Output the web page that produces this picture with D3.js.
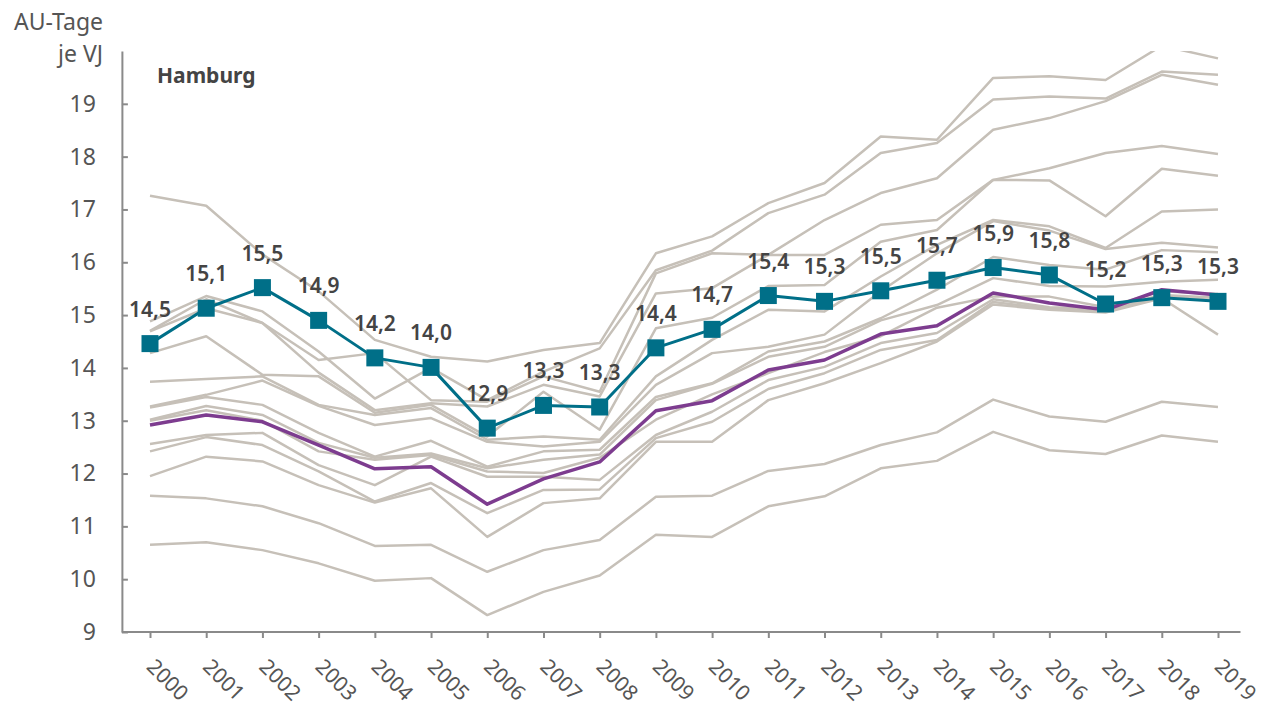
<!DOCTYPE html>
<html>
<head>
<meta charset="utf-8">
<script src="https://cdn.jsdelivr.net/npm/d3@7"></script>
<style>
  body { margin: 0; background: #fff; }
  svg { display: block; font-family: "Noto Sans", "Open Sans", sans-serif; }
</style>
</head>
<body>
<svg id="chart" width="1270" height="707"></svg>
<script>
// Jahre
var years = [2000, 2001, 2002, 2003, 2004, 2005, 2006, 2007, 2008, 2009,
             2010, 2011, 2012, 2013, 2014, 2015, 2016, 2017, 2018, 2019];

// Hamburg (AU-Tage je VJ)
var hamburg = [14.46, 15.13, 15.52, 14.90, 14.19, 14.01, 12.86, 13.29, 13.26, 14.38,
               14.73, 15.37, 15.26, 15.46, 15.66, 15.90, 15.76, 15.21, 15.33, 15.26];

// Bund gesamt
var bund = [12.92, 13.11, 12.98, 12.54, 12.09, 12.13, 11.42, 11.90, 12.22, 13.19,
            13.38, 13.96, 14.15, 14.64, 14.80, 15.42, 15.23, 15.10, 15.48, 15.38];

// uebrige Laender
var laender = [
  [17.26, 17.07, 16.15, 15.45, 14.53, 14.21, 14.12, 14.34, 14.47, 16.17, 16.49, 17.12, 17.50, 18.38, 18.32, 19.49, 19.52, 19.45, 20.10, 19.86],
  [14.88, 15.36, 15.07, 14.31, 13.42, 14.00, 13.39, 13.93, 14.37, 15.85, 16.22, 16.93, 17.28, 18.07, 18.26, 19.08, 19.14, 19.10, 19.61, 19.55],
  [14.70, 15.30, 14.85, 14.15, 14.28, 13.39, 13.36, 13.84, 13.55, 15.79, 16.17, 16.14, 16.80, 17.31, 17.59, 18.51, 18.73, 19.05, 19.55, 19.36],
  [14.69, 15.13, 14.85, 13.91, 13.20, 13.33, 13.27, 13.68, 13.46, 15.41, 15.51, 16.14, 16.14, 16.71, 16.80, 17.56, 17.78, 18.07, 18.20, 18.05],
  [14.28, 14.60, 13.87, 13.84, 13.15, 13.30, 12.70, 13.55, 12.83, 14.75, 14.95, 15.55, 15.57, 16.39, 16.61, 17.56, 17.55, 16.87, 17.77, 17.64],
  [13.74, 13.79, 13.84, 13.30, 13.11, 13.24, 12.64, 12.70, 12.64, 13.84, 14.53, 15.10, 15.07, 15.73, 16.33, 16.80, 16.68, 16.27, 16.96, 17.00],
  [13.27, 13.49, 13.76, 13.28, 12.92, 13.05, 12.60, 12.51, 12.60, 13.68, 14.28, 14.40, 14.63, 15.45, 16.17, 16.78, 16.60, 16.25, 16.37, 16.28],
  [13.25, 13.45, 13.30, 12.77, 12.32, 12.62, 12.13, 12.42, 12.45, 13.45, 13.71, 14.31, 14.50, 14.94, 15.48, 16.10, 15.95, 15.86, 16.23, 16.19],
  [13.02, 13.28, 13.11, 12.58, 12.30, 12.38, 12.10, 12.26, 12.36, 13.39, 13.70, 14.21, 14.40, 14.90, 15.19, 15.70, 15.55, 15.54, 15.63, 15.67],
  [13.00, 13.20, 13.00, 12.42, 12.26, 12.35, 12.04, 12.01, 12.30, 13.02, 13.50, 13.90, 14.30, 14.60, 15.14, 15.35, 15.35, 15.15, 15.45, 15.40],
  [12.56, 12.73, 12.77, 12.16, 11.78, 12.32, 11.94, 11.94, 11.88, 12.73, 13.17, 13.77, 14.02, 14.47, 14.66, 15.30, 15.15, 15.12, 15.38, 15.33],
  [12.42, 12.69, 12.54, 12.04, 11.47, 11.82, 11.25, 11.69, 11.70, 12.67, 12.98, 13.60, 13.90, 14.34, 14.53, 15.25, 15.12, 15.08, 15.35, 15.28],
  [11.95, 12.32, 12.23, 11.78, 11.45, 11.72, 10.80, 11.44, 11.53, 12.60, 12.60, 13.39, 13.71, 14.09, 14.50, 15.20, 15.10, 15.05, 15.32, 14.63],
  [11.58, 11.53, 11.38, 11.06, 10.63, 10.65, 10.14, 10.55, 10.74, 11.56, 11.58, 12.05, 12.18, 12.54, 12.78, 13.40, 13.08, 12.98, 13.36, 13.26],
  [10.65, 10.70, 10.55, 10.30, 9.97, 10.02, 9.32, 9.76, 10.07, 10.84, 10.80, 11.38, 11.57, 12.10, 12.24, 12.79, 12.44, 12.37, 12.72, 12.60]
];

var yTicks = [9, 10, 11, 12, 13, 14, 15, 16, 17, 18, 19];
var yTitle = ["AU-Tage", "je VJ"];
var regionName = "Hamburg";

var svg = d3.select("#chart");

var x = d3.scaleLinear().domain([2000, 2019]).range([150, 1218]);
var y = d3.scaleLinear().domain([9, 20]).range([632, 51]);

var fmt = function (v) { return v.toFixed(1).replace(".", ","); };

svg.append("clipPath").attr("id", "plot")
  .append("rect")
  .attr("x", x(1999.5)).attr("y", y(20))
  .attr("width", x(2019.4) - x(1999.5)).attr("height", y(9) - y(20));

var line = d3.line()
  .x(function (d, i) { return x(years[i]); })
  .y(function (d) { return y(d); });

// y axis
var yAxis = svg.append("g")
  .attr("transform", "translate(" + x(1999.5) + ",0)")
  .call(d3.axisLeft(y).tickValues(yTicks).tickSizeInner(-6).tickSizeOuter(0).tickPadding(26));
yAxis.select(".domain").attr("stroke", "#8a8a8a").attr("stroke-width", 2);
yAxis.selectAll(".tick line").attr("stroke", "#8a8a8a").attr("stroke-width", 2);
yAxis.selectAll(".tick text")
  .attr("fill", "#555").style("font-size", "23px").style("font-family", "Noto Sans");

// x axis
var xAxis = svg.append("g")
  .attr("transform", "translate(0," + y(9) + ")")
  .call(d3.axisBottom(x).tickValues(years).tickFormat(d3.format("d")).tickSizeInner(6).tickSizeOuter(0));
xAxis.select(".domain").remove();
xAxis.append("line")
  .attr("x1", x(1999.5)).attr("x2", x(2019.4))
  .attr("stroke", "#8a8a8a").attr("stroke-width", 2);
xAxis.selectAll(".tick line").attr("stroke", "#8a8a8a").attr("stroke-width", 2);
xAxis.selectAll(".tick text")
  .attr("x", 0).attr("y", 0).attr("dy", 0)
  .attr("text-anchor", "start")
  .attr("transform", "translate(-5,36) rotate(45)")
  .attr("fill", "#555").style("font-size", "21px").style("font-family", "Noto Sans");

// axis title
svg.append("text")
  .attr("x", 103).attr("y", 30)
  .attr("text-anchor", "end")
  .attr("fill", "#555").style("font-size", "23px")
  .selectAll("tspan").data(yTitle).enter().append("tspan")
  .attr("x", 103).attr("dy", function (d, i) { return i ? 32 : 0; })
  .text(function (d) { return d; });

svg.append("text")
  .attr("x", 157).attr("y", 83)
  .attr("fill", "#444").style("font-size", "21px").style("font-weight", "bold")
  .text(regionName);

var plot = svg.append("g").attr("clip-path", "url(#plot)");

plot.selectAll(".land").data(laender).enter().append("path")
  .attr("class", "land")
  .attr("d", line)
  .attr("fill", "none")
  .attr("stroke", "#c6c0b8")
  .attr("stroke-width", 2.5)
  .attr("stroke-linejoin", "round");

plot.append("path")
  .attr("d", line(bund))
  .attr("fill", "none")
  .attr("stroke", "#7d3c8f")
  .attr("stroke-width", 3.5)
  .attr("stroke-linejoin", "round");

plot.append("path")
  .attr("d", line(hamburg))
  .attr("fill", "none")
  .attr("stroke", "#006f88")
  .attr("stroke-width", 3)
  .attr("stroke-linejoin", "round");

svg.selectAll(".marker").data(hamburg).enter().append("rect")
  .attr("class", "marker")
  .attr("x", function (d, i) { return x(years[i]) - 8.5; })
  .attr("y", function (d) { return y(d) - 8.5; })
  .attr("width", 17).attr("height", 17)
  .attr("fill", "#006f88");

svg.selectAll(".value").data(hamburg).enter().append("text")
  .attr("class", "value")
  .attr("x", function (d, i) { return x(years[i]); })
  .attr("y", function (d) { return y(d) - 27; })
  .attr("text-anchor", "middle")
  .attr("fill", "#444")
  .style("font-size", "21px").style("font-weight", "600")
  .text(fmt);
</script>
</body>
</html>
